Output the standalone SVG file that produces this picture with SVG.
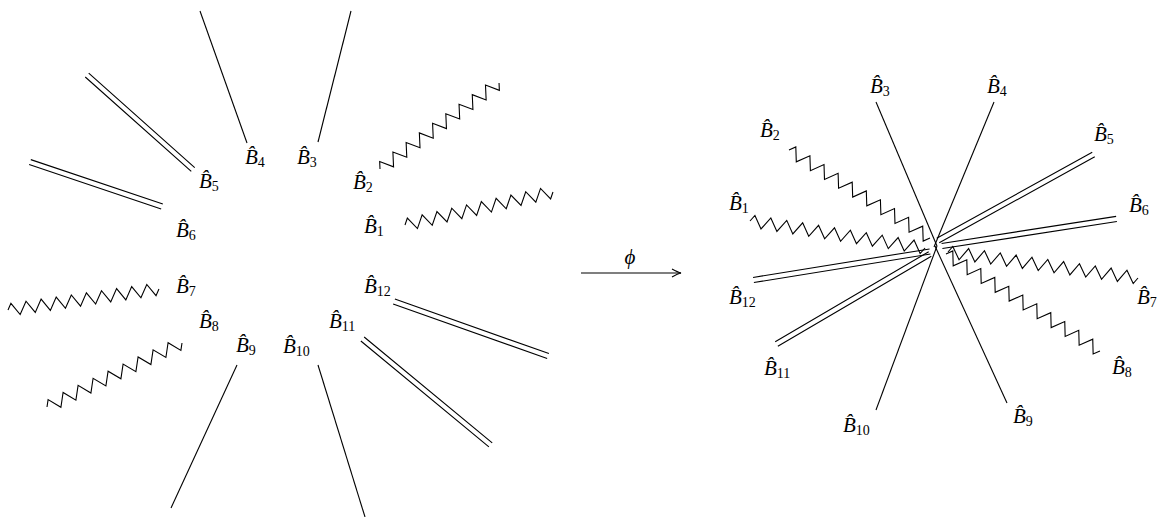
<svg xmlns="http://www.w3.org/2000/svg" width="1174" height="517" viewBox="0 0 1174 517">
<style>
.e{fill:none;stroke:#000;stroke-width:1.1;stroke-linejoin:miter;stroke-linecap:butt}
.t{font-family:"Liberation Serif","DejaVu Serif",serif;font-style:italic;font-size:21px;fill:#000}
.s{font-style:normal;font-size:14px}
</style>
<defs>
<marker id="ah" markerUnits="userSpaceOnUse" markerWidth="12" markerHeight="10" refX="10" refY="5" orient="auto" overflow="visible">
<path d="M1,1 Q7,4.3 10,5 Q7,5.7 1,9" fill="none" stroke="#000" stroke-width="1.1"/>
</marker>
</defs>
<rect width="1174" height="517" fill="#fff"/>
<g id="connectors">
<path class="e" d="M200 11L247 143"/>
<path class="e" d="M351 11L318 142"/>
<path class="e" d="M237 365L171 508"/>
<path class="e" d="M318 365L365 517"/>
<path class="e" transform="translate(193 169.5) rotate(-138.3)" d="M0 -2.6H142M0 2.6H142"/>
<path class="e" transform="translate(162 206.5) rotate(-161.4)" d="M0 -2.6H139.3M0 2.6H139.3"/>
<path class="e" transform="translate(362.5 339) rotate(39.6)" d="M0 -2.6H166.2M0 2.6H166.2"/>
<path class="e" transform="translate(394 301.5) rotate(19.5)" d="M0 -2.6H163.4M0 2.6H163.4"/>
<path class="e" transform="translate(405 225) rotate(-12.57)" d="M0 0l3.79-6.2 7.58 12.4 7.58-12.4 7.58 12.4 7.58-12.4 7.58 12.4 7.58-12.4 7.58 12.4 7.58-12.4 7.58 12.4 7.58-12.4 7.58 12.4 7.58-12.4 7.58 12.4 7.58-12.4 7.58 12.4 7.58-12.4 7.58 12.4 7.58-12.4 7.58 12.4 3.79-6.2"/>
<path class="e" transform="translate(380 169) rotate(-35.86)" d="M0 0l4.08-6.2 8.16 12.4 8.16-12.4 8.16 12.4 8.16-12.4 8.16 12.4 8.16-12.4 8.16 12.4 8.16-12.4 8.16 12.4 8.16-12.4 8.16 12.4 8.16-12.4 8.16 12.4 8.16-12.4 8.16 12.4 8.16-12.4 8.16 12.4 4.08-6.2"/>
<path class="e" transform="translate(8 310) rotate(-7.92)" d="M0 0l3.81-6.2 7.62 12.4 7.62-12.4 7.62 12.4 7.62-12.4 7.62 12.4 7.62-12.4 7.62 12.4 7.62-12.4 7.62 12.4 7.62-12.4 7.62 12.4 7.62-12.4 7.62 12.4 7.62-12.4 7.62 12.4 7.62-12.4 7.62 12.4 7.62-12.4 7.62 12.4 3.81-6.2"/>
<path class="e" transform="translate(47 407) rotate(-25.37)" d="M0 0l4.15-6.2 8.3 12.4 8.3-12.4 8.3 12.4 8.3-12.4 8.3 12.4 8.3-12.4 8.3 12.4 8.3-12.4 8.3 12.4 8.3-12.4 8.3 12.4 8.3-12.4 8.3 12.4 8.3-12.4 8.3 12.4 8.3-12.4 8.3 12.4 4.15-6.2"/>
<path class="e" d="M581 273H681" marker-end="url(#ah)"/>
<path class="e" d="M876 102L937 246"/>
<path class="e" d="M994 102L934 247"/>
<path class="e" d="M935 246L1007 403"/>
<path class="e" d="M937 246L876 410"/>
<path class="e" transform="translate(938 240.5) rotate(-28.95)" d="M0 -2.6H177.7M0 2.6H177.7"/>
<path class="e" transform="translate(942 246) rotate(-8.8)" d="M0 -2.6H176.6M0 2.6H176.6"/>
<path class="e" transform="translate(930 251.5) rotate(170.83)" d="M0 -2.6H178.8M0 2.6H178.8"/>
<path class="e" transform="translate(930 254) rotate(149.62)" d="M0 -2.6H177.9M0 2.6H177.9"/>
<path class="e" transform="translate(750 221) rotate(8.77)" d="M0 0l4.03-6.2 8.05 12.4 8.05-12.4 8.05 12.4 8.05-12.4 8.05 12.4 8.05-12.4 8.05 12.4 8.05-12.4 8.05 12.4 8.05-12.4 8.05 12.4 8.05-12.4 8.05 12.4 8.05-12.4 8.05 12.4 8.05-12.4 8.05 12.4 8.05-12.4 8.05 12.4 8.05-12.4 8.05 12.4 4.03-6.2"/>
<path class="e" transform="translate(789 150) rotate(31.97)" d="M0 0l4.16-6.2 8.31 12.4 8.31-12.4 8.31 12.4 8.31-12.4 8.31 12.4 8.31-12.4 8.31 12.4 8.31-12.4 8.31 12.4 8.31-12.4 8.31 12.4 8.31-12.4 8.31 12.4 8.31-12.4 8.31 12.4 8.31-12.4 8.31 12.4 8.31-12.4 8.31 12.4 4.16-6.2"/>
<path class="e" transform="translate(948 252) rotate(7.79)" d="M0 0l4-6.2 7.99 12.4 7.99-12.4 7.99 12.4 7.99-12.4 7.99 12.4 7.99-12.4 7.99 12.4 7.99-12.4 7.99 12.4 7.99-12.4 7.99 12.4 7.99-12.4 7.99 12.4 7.99-12.4 7.99 12.4 7.99-12.4 7.99 12.4 7.99-12.4 7.99 12.4 7.99-12.4 7.99 12.4 7.99-12.4 7.99 12.4 4-6.2"/>
<path class="e" transform="translate(946 254) rotate(32.21)" d="M0 0l4.14-6.2 8.27 12.4 8.27-12.4 8.27 12.4 8.27-12.4 8.27 12.4 8.27-12.4 8.27 12.4 8.27-12.4 8.27 12.4 8.27-12.4 8.27 12.4 8.27-12.4 8.27 12.4 8.27-12.4 8.27 12.4 8.27-12.4 8.27 12.4 8.27-12.4 8.27 12.4 8.27-12.4 8.27 12.4 4.14-6.2"/>
</g>
<g id="phi-label"><text class="t" x="630" y="264" text-anchor="middle">ϕ</text></g>
<g id="L-B1"><text class="t" x="364" y="233">B&#x302;<tspan class="s" dy="3">1</tspan></text></g>
<g id="L-B2"><text class="t" x="353" y="189">B&#x302;<tspan class="s" dy="3">2</tspan></text></g>
<g id="L-B3"><text class="t" x="297" y="164">B&#x302;<tspan class="s" dy="3">3</tspan></text></g>
<g id="L-B4"><text class="t" x="245" y="164">B&#x302;<tspan class="s" dy="3">4</tspan></text></g>
<g id="L-B5"><text class="t" x="199" y="188">B&#x302;<tspan class="s" dy="3">5</tspan></text></g>
<g id="L-B6"><text class="t" x="176" y="237">B&#x302;<tspan class="s" dy="3">6</tspan></text></g>
<g id="L-B7"><text class="t" x="176" y="293">B&#x302;<tspan class="s" dy="3">7</tspan></text></g>
<g id="L-B8"><text class="t" x="199" y="328">B&#x302;<tspan class="s" dy="3">8</tspan></text></g>
<g id="L-B9"><text class="t" x="236" y="352">B&#x302;<tspan class="s" dy="3">9</tspan></text></g>
<g id="L-B10"><text class="t" x="283" y="353">B&#x302;<tspan class="s" dy="3">10</tspan></text></g>
<g id="L-B11"><text class="t" x="329" y="328">B&#x302;<tspan class="s" dy="3">11</tspan></text></g>
<g id="L-B12"><text class="t" x="364" y="293">B&#x302;<tspan class="s" dy="3">12</tspan></text></g>
<g id="R-B1"><text class="t" x="729" y="210">B&#x302;<tspan class="s" dy="3">1</tspan></text></g>
<g id="R-B2"><text class="t" x="760" y="137">B&#x302;<tspan class="s" dy="3">2</tspan></text></g>
<g id="R-B3"><text class="t" x="870" y="93">B&#x302;<tspan class="s" dy="3">3</tspan></text></g>
<g id="R-B4"><text class="t" x="987" y="93">B&#x302;<tspan class="s" dy="3">4</tspan></text></g>
<g id="R-B5"><text class="t" x="1094" y="141">B&#x302;<tspan class="s" dy="3">5</tspan></text></g>
<g id="R-B6"><text class="t" x="1129" y="212">B&#x302;<tspan class="s" dy="3">6</tspan></text></g>
<g id="R-B7"><text class="t" x="1137" y="304">B&#x302;<tspan class="s" dy="3">7</tspan></text></g>
<g id="R-B8"><text class="t" x="1112" y="374">B&#x302;<tspan class="s" dy="3">8</tspan></text></g>
<g id="R-B9"><text class="t" x="1013" y="423">B&#x302;<tspan class="s" dy="3">9</tspan></text></g>
<g id="R-B10"><text class="t" x="843" y="432">B&#x302;<tspan class="s" dy="3">10</tspan></text></g>
<g id="R-B11"><text class="t" x="764" y="375">B&#x302;<tspan class="s" dy="3">11</tspan></text></g>
<g id="R-B12"><text class="t" x="729" y="304">B&#x302;<tspan class="s" dy="3">12</tspan></text></g>
</svg>
